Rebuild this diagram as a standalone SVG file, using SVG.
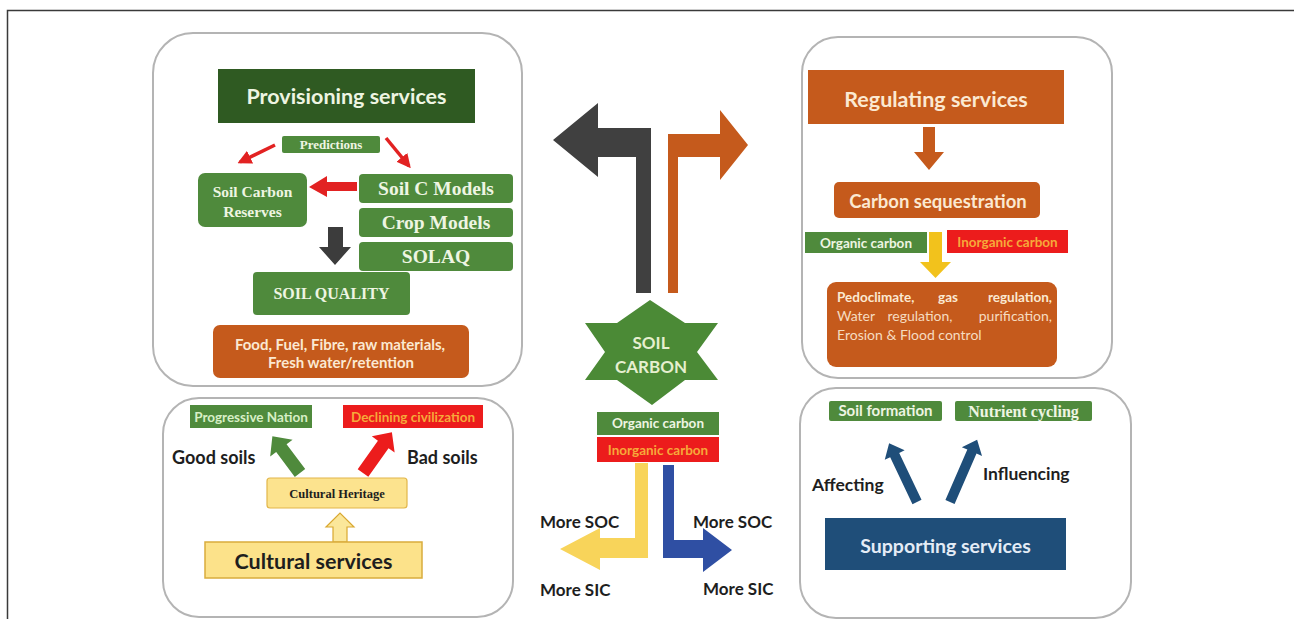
<svg xmlns="http://www.w3.org/2000/svg" width="1294" height="619" viewBox="0 0 1294 619">
  <style>
    .panel { fill: #ffffff; stroke: #b4b4b4; stroke-width: 2; }
    .sans { font-family: Lato, "Open Sans", "Liberation Sans", sans-serif; font-weight: bold; }
    .plain { font-family: Lato, "Open Sans", "Liberation Sans", sans-serif; }
    .serif { font-family: "Liberation Serif", "DejaVu Serif", serif; font-weight: bold; }
    .lt { fill: #eef5e2; }
    .dk { fill: #1e1e1e; }
    .peach { fill: #fbe9d2; }
    .gbox { fill: #4f8a3c; }
    .obox { fill: #c55a1c; }
    .rbox { fill: #ec1c1c; }
    .inorg { fill: #f6a93a; }
    .redln { stroke: #e22222; stroke-width: 3.5; fill: none; }
  </style>
  <defs>
    <marker id="redHead" viewBox="0 0 10 10" refX="8" refY="5" markerWidth="4" markerHeight="4" orient="auto">
      <path d="M0,0 L10,5 L0,10 z" fill="#e22222"/>
    </marker>
  </defs>

  <!-- outer frame (top and left rules) -->
  <g id="frame" fill="none" stroke="#3a3a3a" stroke-width="1.5">
    <path d="M7.5,619 V10.5 H1294"/>
  </g>

  <!-- panels -->
  <g id="panels">
    <rect class="panel" x="153" y="33" width="369" height="353" rx="40"/>
    <rect class="panel" x="802" y="37" width="310" height="341" rx="36"/>
    <rect class="panel" x="163" y="398" width="350" height="219" rx="36"/>
    <rect class="panel" x="800" y="388" width="331" height="230" rx="36"/>
  </g>

  <!-- connectors -->
  <g id="connectors">
    <!-- provisioning panel -->
    <line class="redln" x1="275" y1="145" x2="240" y2="162" marker-end="url(#redHead)"/>
    <line class="redln" x1="386" y1="138" x2="409" y2="166" marker-end="url(#redHead)"/>
    <polygon fill="#e22222" points="357,182 327,182 327,176 309,187 327,197 327,191 357,191"/>
    <polygon fill="#3c3c3c" points="328,227 343,227 343,247 351,247 335,265 319,247 328,247"/>

    <!-- soil carbon to top services -->
    <polygon fill="#404040" points="636,293 636,157 598,157 598,177 553,140 598,103 598,128 651,128 651,293"/>
    <polygon fill="#c55a1c" points="668,293 668,134 720,134 720,110 748,145 720,180 720,157 678,157 678,293"/>

    <!-- soil carbon to lower split -->
    <polygon fill="#f8d45a" points="635,463 648,463 648,558 600,558 600,570 560,549 600,528 600,538 635,538"/>
    <polygon fill="#2f4fa3" points="663,465 674,465 674,540 703,540 703,528 732,550 703,572 703,558 663,558"/>

    <!-- regulating panel -->
    <polygon fill="#c55a1c" points="923,127 935,127 935,152 944,152 929,170 914,152 923,152"/>
    <polygon fill="#f2c21c" points="929,232 942,232 942,262 951,262 935.5,278 920,262 929,262"/>

    <!-- cultural panel -->
    <polygon fill="#4f8a3c" transform="translate(300,473) rotate(-126.9)" points="0,-6.5 31,-6.5 31,-14 46,0 31,14 31,6.5 0,6.5"/>
    <polygon fill="#ec1c1c" transform="translate(363,473) rotate(-54.7)" points="0,-6.5 35,-6.5 35,-14 50,0 35,14 35,6.5 0,6.5"/>
    <polygon fill="#fbe79a" stroke="#d9a830" stroke-width="1.2" points="333,542 347,542 347,527 354,527 340,513 326,527 333,527"/>

    <!-- supporting panel -->
    <polygon fill="#1f4e79" transform="translate(917,502) rotate(-115.4)" points="0,-5 52,-5 52,-11 65,0 52,11 52,5 0,5"/>
    <polygon fill="#1f4e79" transform="translate(950,502) rotate(-66.5)" points="0,-5 55,-5 55,-11 68,0 55,11 55,5 0,5"/>
  </g>

  <!-- provisioning services -->
  <g id="provisioning">
    <rect x="218" y="69" width="257" height="54" fill="#2f5a22"/>
    <text class="sans lt" x="346.5" y="103.5" font-size="21.5" text-anchor="middle">Provisioning services</text>
  </g>
  <g id="predictions">
    <rect class="gbox" x="282" y="136" width="98" height="17" rx="2"/>
    <text class="serif lt" x="331" y="149" font-size="13" text-anchor="middle">Predictions</text>
  </g>
  <g id="soil-carbon-reserves">
    <rect class="gbox" x="198" y="173" width="109" height="54" rx="7"/>
    <text class="serif lt" x="252.5" y="197" font-size="15.5" text-anchor="middle">Soil Carbon</text>
    <text class="serif lt" x="252.5" y="217" font-size="15.5" text-anchor="middle">Reserves</text>
  </g>
  <g id="soil-c-models">
    <rect class="gbox" x="359" y="174" width="154" height="29" rx="4"/>
    <text class="serif lt" x="436" y="195" font-size="19.5" text-anchor="middle">Soil C Models</text>
  </g>
  <g id="crop-models">
    <rect class="gbox" x="359" y="208" width="154" height="29" rx="4"/>
    <text class="serif lt" x="436" y="229" font-size="19.5" text-anchor="middle">Crop Models</text>
  </g>
  <g id="solaq">
    <rect class="gbox" x="359" y="242" width="154" height="29" rx="4"/>
    <text class="serif lt" x="436" y="263" font-size="19.5" text-anchor="middle">SOLAQ</text>
  </g>
  <g id="soil-quality">
    <rect class="gbox" x="253" y="272" width="157" height="43" rx="4"/>
    <text class="serif lt" x="331.5" y="299" font-size="16" text-anchor="middle">SOIL QUALITY</text>
  </g>
  <g id="provisions">
    <rect class="obox" x="213" y="325" width="256" height="53" rx="7"/>
    <text class="sans peach" x="340" y="350" font-size="15" text-anchor="middle">Food, Fuel, Fibre, raw materials,</text>
    <text class="sans peach" x="341" y="368" font-size="15" text-anchor="middle">Fresh water/retention</text>
  </g>

  <!-- soil carbon -->
  <g id="soil-carbon">
    <polygon fill="#4b8a36" points="650,300 685,323 718,323 697,352 718,380 685,380 652,405 617,380 585,380 605,352 585,323 617,323"/>
    <text class="sans" fill="#e6efcf" x="651" y="349" font-size="17" text-anchor="middle">SOIL</text>
    <text class="sans" fill="#e6efcf" x="651" y="373" font-size="17" text-anchor="middle">CARBON</text>
  </g>
  <g id="carbon-forms">
    <rect class="gbox" x="597" y="412" width="122" height="23"/>
    <text class="sans lt" x="658" y="428" font-size="13.5" text-anchor="middle">Organic carbon</text>
    <rect class="rbox" x="597" y="437" width="122" height="25"/>
    <text class="sans inorg" x="658" y="454.5" font-size="13.5" text-anchor="middle">Inorganic carbon</text>
  </g>
  <g id="split-labels" class="sans dk" font-size="17">
    <text x="540" y="528">More SOC</text>
    <text x="540" y="596">More SIC</text>
    <text x="693" y="528">More SOC</text>
    <text x="703" y="595">More SIC</text>
  </g>

  <!-- regulating services -->
  <g id="regulating">
    <rect class="obox" x="808" y="70" width="256" height="54"/>
    <text class="sans peach" x="936" y="106.5" font-size="21.5" text-anchor="middle">Regulating services</text>
  </g>
  <g id="carbon-sequestration">
    <rect class="obox" x="834" y="182" width="206" height="36" rx="5"/>
    <text class="sans peach" x="938" y="207.5" font-size="18.5" text-anchor="middle">Carbon sequestration</text>
  </g>
  <g id="reg-organic">
    <rect class="gbox" x="805" y="232" width="122" height="21"/>
    <text class="sans lt" x="866" y="247.5" font-size="13.5" text-anchor="middle">Organic carbon</text>
  </g>
  <g id="reg-inorganic">
    <rect class="rbox" x="947" y="230" width="121" height="23"/>
    <text class="sans inorg" x="1007.5" y="246.5" font-size="13.5" text-anchor="middle">Inorganic carbon</text>
  </g>
  <g id="regulation-outcomes">
    <rect class="obox" x="827" y="282" width="230" height="85" rx="9"/>
    <g class="sans peach" font-size="13.5">
      <text x="837" y="302">Pedoclimate,</text>
      <text x="948" y="302" text-anchor="middle">gas</text>
      <text x="1052" y="302" text-anchor="end">regulation,</text>
    </g>
    <g class="plain" fill="#f6dcc0" font-size="14">
      <text x="837" y="321">Water</text>
      <text x="920" y="321" text-anchor="middle">regulation,</text>
      <text x="1052" y="321" text-anchor="end">purification,</text>
      <text x="837" y="340">Erosion &amp; Flood control</text>
    </g>
  </g>

  <!-- cultural services -->
  <g id="progressive-nation">
    <rect class="gbox" x="190" y="405" width="122" height="23"/>
    <text class="sans" fill="#d8efc6" x="251" y="421.5" font-size="13.5" text-anchor="middle">Progressive Nation</text>
  </g>
  <g id="declining-civilization">
    <rect class="rbox" x="343" y="405" width="140" height="23"/>
    <text class="sans inorg" x="413" y="421.5" font-size="13.5" text-anchor="middle">Declining civilization</text>
  </g>
  <g id="soil-labels" class="sans dk" font-size="18">
    <text x="172" y="464">Good soils</text>
    <text x="407" y="464">Bad soils</text>
  </g>
  <g id="cultural-heritage">
    <rect x="267" y="478" width="140" height="30" rx="3" fill="#fce38e" stroke="#e2b64a" stroke-width="1.2"/>
    <text class="serif dk" x="337" y="497.5" font-size="12.5" text-anchor="middle">Cultural Heritage</text>
  </g>
  <g id="cultural">
    <rect x="205" y="542" width="217" height="36" fill="#fce28a" stroke="#d9ac3c" stroke-width="1.5"/>
    <text class="sans dk" x="313.5" y="568.5" font-size="21.5" text-anchor="middle">Cultural services</text>
  </g>

  <!-- supporting services -->
  <g id="soil-formation">
    <rect class="gbox" x="829" y="401" width="113" height="20" rx="2"/>
    <text class="sans lt" x="885.5" y="416" font-size="15" text-anchor="middle">Soil  formation</text>
  </g>
  <g id="nutrient-cycling">
    <rect class="gbox" x="955" y="401" width="137" height="20" rx="2"/>
    <text class="serif lt" x="1023.5" y="416.5" font-size="16" text-anchor="middle">Nutrient cycling</text>
  </g>
  <g id="support-labels" class="sans dk" font-size="17.5">
    <text x="812" y="491">Affecting</text>
    <text x="983" y="480">Influencing</text>
  </g>
  <g id="supporting">
    <rect x="825" y="518" width="241" height="52" fill="#1f4e79"/>
    <text class="sans" fill="#e4ecf6" x="945.5" y="553" font-size="19.5" text-anchor="middle">Supporting services</text>
  </g>
</svg>
